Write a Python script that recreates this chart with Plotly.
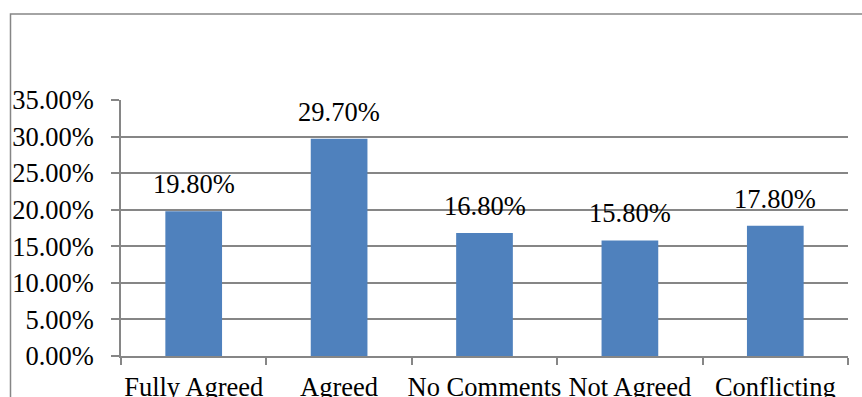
import plotly.graph_objects as go

categories = ["Fully Agreed", "Agreed", "No Comments", "Not Agreed", "Conflicting"]
percentages = [19.80, 29.70, 16.80, 15.80, 17.80]
y_ticks = [0, 5, 10, 15, 20, 25, 30, 35]
y_tick_labels = [f"{v:.2f}%" for v in y_ticks]

FONT = "Liberation Serif"
GRAY = "#868686"
BAR = "#4F81BD"

fig = go.Figure()
fig.add_trace(go.Bar(
    x=categories,
    y=percentages,
    marker=dict(color=BAR, line=dict(width=0)),
    width=0.39,
    hoverinfo="skip",
))

for cat, val in zip(categories, percentages):
    fig.add_annotation(
        x=cat, y=val, text=f"{val:.2f}%",
        showarrow=False, yanchor="bottom", yshift=10,
        font=dict(family=FONT, size=26.5, color="#000000"),
    )

# outer chart border
fig.add_shape(
    type="rect", xref="paper", yref="paper",
    x0=-0.152, x1=1.1, y0=-0.5, y1=1.336,
    line=dict(color=GRAY, width=1.5), fillcolor="rgba(0,0,0,0)",
    layer="below",
)

fig.update_layout(
    width=862, height=397,
    margin=dict(l=121, r=14, t=100, b=41, autoexpand=False),
    paper_bgcolor="white", plot_bgcolor="white",
    showlegend=False,
    bargap=0.61,
    font=dict(family=FONT, size=26.5, color="#000000"),
    xaxis=dict(
        showline=True, linecolor=GRAY, linewidth=1.5,
        ticks="outside", ticklen=7, tickcolor=GRAY, tickwidth=1.5,
        tickson="boundaries", showgrid=False, tickangle=0,
        ticklabelstandoff=6,
        automargin=False,
        tickfont=dict(family=FONT, size=26.5),
        fixedrange=True,
    ),
    yaxis=dict(
        range=[0, 35], tickvals=y_ticks, ticktext=y_tick_labels,
        showline=True, linecolor=GRAY, linewidth=1.5,
        ticks="outside", ticklen=8, tickcolor=GRAY, tickwidth=1.5,
        ticklabelstandoff=12,
        showgrid=True, gridcolor=GRAY, gridwidth=1.5,
        zeroline=False, automargin=False,
        tickfont=dict(family=FONT, size=26.5),
        fixedrange=True,
    ),
)

fig.write_html("out.html")
